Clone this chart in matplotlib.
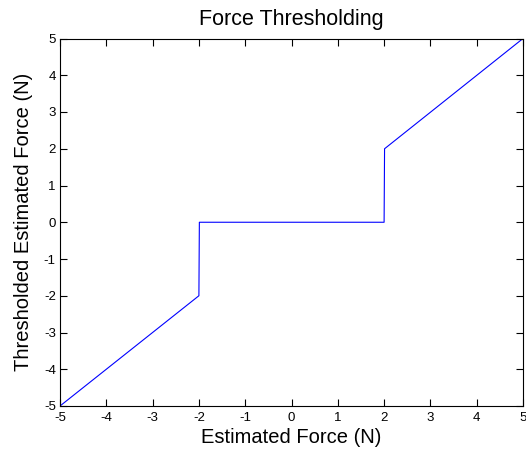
import matplotlib
matplotlib.use("Agg")
import matplotlib.pyplot as plt

# piecewise thresholding: zero inside the dead band, identity outside
est_force = [-5.0, -2.0, -1.99, 2.0, 2.01, 5.0]
thr_force = [-5.0, -2.0, 0.0, 0.0, 2.0, 5.0]
ticks = [-5, -4, -3, -2, -1, 0, 1, 2, 3, 4, 5]

plt.rcParams['font.family'] = ['Liberation Sans', 'DejaVu Sans']
plt.rcParams['axes.unicode_minus'] = False

fig = plt.figure(figsize=(5.26, 4.53), dpi=100)
ax = fig.add_axes([60 / 526, 47 / 453, 463 / 526, 367.5 / 453])
ax.plot(est_force, thr_force, color='#0000ff', linewidth=0.8)

ax.set_xlim(-5, 5)
ax.set_ylim(-5, 5)
ax.set_xticks(ticks)
ax.set_yticks(ticks)
ax.tick_params(direction='in', length=5, width=0.8, labelsize=9.5,
               top=True, right=True)
ax.tick_params(axis='x', pad=4.5)
ax.tick_params(axis='y', pad=3)
for s in ax.spines.values():
    s.set_linewidth(0.8)

ax.set_title('Force Thresholding', fontsize=15.5, pad=10)
ax.set_xlabel('Estimated Force (N)', fontsize=14.5, labelpad=3)
ax.set_ylabel('Thresholded Estimated Force (N)', fontsize=14.5, labelpad=8)

fig.savefig('out.png', dpi=100)
